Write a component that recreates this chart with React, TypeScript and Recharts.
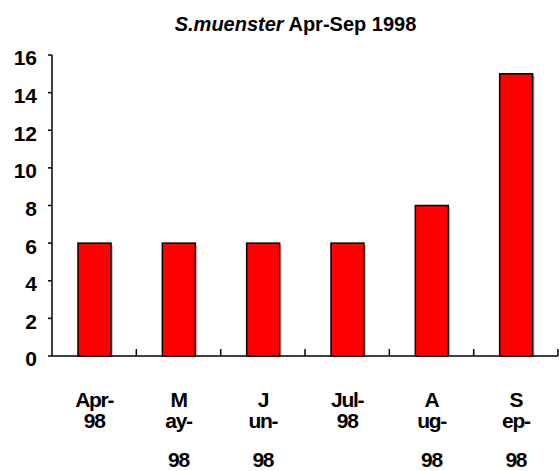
import React from 'react';
import { BarChart, Bar, XAxis, YAxis } from 'recharts';

// monthly counts, Apr-Sep 1998
const months = ['Apr-98', 'May-98', 'Jun-98', 'Jul-98', 'Aug-98', 'Sep-98'];
const monthLines = [
  ['Apr-', '98'],
  ['M', 'ay-', '98'],
  ['J', 'un-', '98'],
  ['Jul-', '98'],
  ['A', 'ug-', '98'],
  ['S', 'ep-', '98'],
];
const counts = [6, 6, 6, 6, 8, 15];
const yTicks = [0, 2, 4, 6, 8, 10, 12, 14, 16];

const data = months.map((m, i) => ({ month: m, count: counts[i] }));

const W = 559;
const H = 471;
const LEFT = 52;
const RIGHT = 1;
const BAND = (W - LEFT - RIGHT) / months.length;
const FONT = '"Liberation Sans", Arial, sans-serif';

// line offsets below the axis (Excel-style uneven wrap)
const lineOffsets = [51, 72, 111];

function MonthTick(props: any) {
  const { x, y, payload, index } = props;
  const lines = monthLines[index] ?? [payload.value];
  return (
    <g>
      <line x1={x + BAND / 2} x2={x + BAND / 2} y1={y} y2={y - 7} stroke="#000" strokeWidth={1.5} />
      {lines.map((t, i) => (
        <text
          key={i}
          x={x}
          y={y + lineOffsets[i]}
          textAnchor="middle"
          fontFamily={FONT}
          fontWeight="bold"
          fontSize={21}
          letterSpacing={-1.3}
          fill="#000"
        >
          {t}
        </text>
      ))}
    </g>
  );
}

function ShadowBar(props: any) {
  const { x, y, width, height } = props;
  if (!height) return null;
  return (
    <g>
      <rect x={x + 2} y={y + 2} width={width} height={height - 2} fill="#c8c8c8" />
      <rect x={x} y={y} width={width} height={height} fill="#ff0000" stroke="#000" strokeWidth={1.5} />
    </g>
  );
}

export default function App() {
  return (
    <div style={{ position: 'relative', width: W, height: H, background: '#fff' }}>
      <style>{'body{margin:0}'}</style>
      <div
        style={{
          position: 'absolute',
          top: 13,
          left: 0,
          width: 591,
          textAlign: 'center',
          fontFamily: FONT,
          fontWeight: 'bold',
          fontSize: 20,
          whiteSpace: 'nowrap',
        }}
      >
        <i>S.muenster</i> Apr-Sep 1998
      </div>
      <BarChart
        width={W}
        height={H}
        data={data}
        margin={{ top: 55, right: RIGHT, left: 0, bottom: 0 }}
        barSize={33}
      >
        <XAxis
          dataKey="month"
          height={115}
          axisLine={{ stroke: '#000', strokeWidth: 1.5 }}
          tickLine={false}
          tickSize={0}
          tickMargin={0}
          interval={0}
          tick={<MonthTick />}
        />
        <YAxis
          width={LEFT}
          domain={[0, 16]}
          ticks={yTicks}
          interval={0}
          axisLine={{ stroke: '#000', strokeWidth: 1.5 }}
          tickLine={{ stroke: '#000', strokeWidth: 1.5 }}
          tickSize={4}
          tickMargin={11}
          tick={{ fontFamily: FONT, fontWeight: 'bold', fontSize: 21, fill: '#000', dy: 3 }}
        />
        <Bar dataKey="count" shape={<ShadowBar />} isAnimationActive={false} />
      </BarChart>
    </div>
  );
}
